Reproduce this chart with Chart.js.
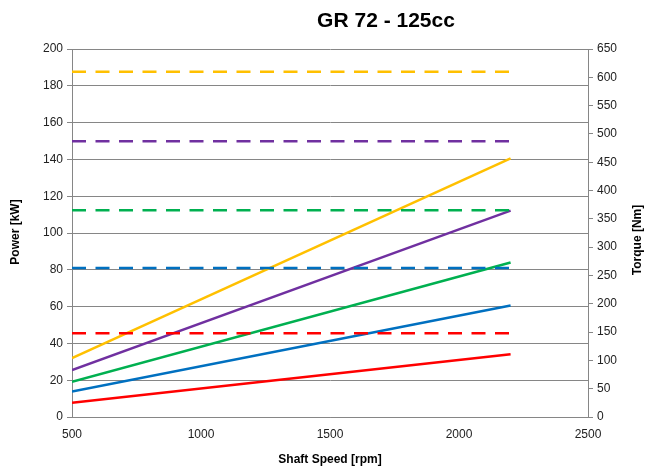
<!DOCTYPE html>
<html>
<head>
<meta charset="utf-8">
<script src="https://cdn.jsdelivr.net/npm/chart.js@4"></script>
<style>
  html, body { margin: 0; padding: 0; background: #fff; }
  #wrap { width: 645px; height: 471px; position: relative; }
</style>
</head>
<body>
<div id="wrap"><canvas id="grChart"></canvas></div>
<script>
// chart data
const chartTitle = 'GR 72 - 125cc';
const leftAxisTitle = 'Power [kW]';
const rightAxisTitle = 'Torque [Nm]';
const shaftSpeed = [500, 2200];

// power [kW] – solid lines, left axis
const powerRed = [7.8, 34.1];
const powerBlue = [13.8, 60.6];
const powerGreen = [19.1, 84.0];
const powerPurple = [25.5, 112.2];
const powerYellow = [32.0, 140.5];

// torque [Nm] – dashed lines, right axis
const torqueRed = [148, 148];
const torqueBlue = [263, 263];
const torqueGreen = [365, 365];
const torquePurple = [487, 487];
const torqueYellow = [610, 610];

const seriesColors = ['#FF0000', '#0070C0', '#00B050', '#7030A0', '#FFC000'];
const powerSets = [powerRed, powerBlue, powerGreen, powerPurple, powerYellow];
const torqueSets = [torqueRed, torqueBlue, torqueGreen, torquePurple, torqueYellow];

const toPoints = vals => vals.map((v, i) => ({ x: shaftSpeed[i], y: v }));

const datasets = [];
torqueSets.forEach((vals, i) => {
  datasets.push({
    label: 'Torque ' + (i + 1),
    data: toPoints(vals),
    yAxisID: 'yTorque',
    borderColor: seriesColors[i],
    borderWidth: 2.5,
    borderDash: [14, 9.5],
    pointRadius: 0,
    fill: false
  });
});
powerSets.forEach((vals, i) => {
  datasets.push({
    label: 'Power ' + (i + 1),
    data: toPoints(vals),
    yAxisID: 'yPower',
    borderColor: seriesColors[i],
    borderWidth: 2.5,
    pointRadius: 0,
    fill: false
  });
});

const fontFamily = '"Liberation Sans", Arial, sans-serif';

// title + both y titles drawn by hand (both read bottom-to-top, title off-centre)
const extraText = {
  id: 'extraText',
  afterDraw(chart) {
    const c = chart.ctx;
    c.save();
    c.fillStyle = '#000';
    c.textAlign = 'center';
    c.textBaseline = 'middle';
    c.font = 'bold 21px ' + fontFamily;
    c.fillText(chartTitle, 386, 21);

    c.font = 'bold 12px ' + fontFamily;
    c.translate(16, 232);
    c.rotate(-Math.PI / 2);
    c.fillText(leftAxisTitle, 0, 0);
    c.restore();

    c.save();
    c.fillStyle = '#000';
    c.textAlign = 'center';
    c.textBaseline = 'middle';
    c.font = 'bold 12px ' + fontFamily;
    c.translate(638, 240);
    c.rotate(-Math.PI / 2);
    c.fillText(rightAxisTitle, 0, 0);
    c.restore();
  }
};

const tickFont = { family: fontFamily, size: 12 };
const axisTitleFont = { family: fontFamily, size: 12, weight: 'bold' };

new Chart(document.getElementById('grChart'), {
  type: 'line',
  data: { datasets },
  options: {
    responsive: true,
    maintainAspectRatio: false,
    animation: false,
    layout: { padding: { top: 49, left: 0, right: 0, bottom: 0 } },
    plugins: {
      legend: { display: false },
      tooltip: { enabled: false }
    },
    scales: {
      x: {
        type: 'linear',
        min: 500,
        max: 2500,
        ticks: { stepSize: 500, color: '#222', font: tickFont, padding: 10, callback: v => String(v) },
        grid: { display: true, drawOnChartArea: false, drawTicks: false },
        border: { display: true, color: '#868686' },
        title: { display: true, text: 'Shaft Speed [rpm]', color: '#000', font: axisTitleFont, padding: { top: 4 } },
        afterFit: s => { s.height = 54; }
      },
      yPower: {
        position: 'left',
        min: 0,
        max: 200,
        ticks: { stepSize: 20, color: '#222', font: tickFont, padding: 4 },
        grid: { color: '#868686', lineWidth: 1, tickLength: 5 },
        border: { display: true, color: '#868686' },
        afterFit: s => { s.width = 72; }
      },
      yTorque: {
        position: 'right',
        min: 0,
        max: 650,
        ticks: { stepSize: 50, color: '#222', font: tickFont, padding: 4 },
        grid: { drawOnChartArea: false, color: '#868686', tickLength: 5 },
        border: { display: true, color: '#868686' },
        afterFit: s => { s.width = 57; }
      }
    }
  },
  plugins: [extraText]
});
</script>
</body>
</html>
